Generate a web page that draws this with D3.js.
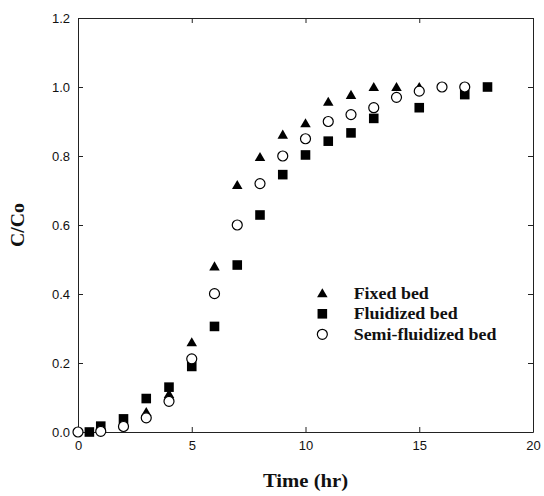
<!DOCTYPE html>
<html>
<head>
<meta charset="utf-8">
<script src="https://cdn.jsdelivr.net/npm/d3@7/dist/d3.min.js"></script>
<style>
  body { margin: 0; background: #fff; }
  svg { display: block; }
  .tick text { font-family: "Liberation Sans", Arial, sans-serif; font-size: 13px; fill: #111; }
  .domain, .tick line { stroke: #222; stroke-width: 1; }
  .title { font-family: "Liberation Serif", "Times New Roman", serif; font-weight: bold; fill: #111; }
</style>
</head>
<body>
<svg id="chart" width="544" height="496"></svg>
<script>
// Fixed bed (triangles)
const fixedX = [3, 4, 5, 6, 7, 8, 9, 10, 11, 12, 13, 14, 15];
const fixedY = [0.058, 0.11, 0.26, 0.48, 0.716, 0.797, 0.862, 0.895, 0.957, 0.977, 1.0, 1.0, 1.0];

// Fluidized bed (squares)
const fluidX = [0.5, 1, 2, 3, 4, 5, 6, 7, 8, 9, 10, 11, 12, 13, 15, 17, 18];
const fluidY = [0, 0.017, 0.038, 0.097, 0.13, 0.19, 0.306, 0.484, 0.629, 0.746, 0.803, 0.843, 0.867, 0.909, 0.94, 0.978, 1.0];

// Semi-fluidized bed (circles)
const semiX = [0, 1, 2, 3, 4, 5, 6, 7, 8, 9, 10, 11, 12, 13, 14, 15, 16, 17];
const semiY = [0, 0.002, 0.016, 0.041, 0.089, 0.212, 0.401, 0.6, 0.72, 0.8, 0.85, 0.9, 0.92, 0.94, 0.97, 0.988, 1.0, 1.0];

const xTicks = [0, 5, 10, 15, 20];
const yTicks = [0, 0.2, 0.4, 0.6, 0.8, 1.0, 1.2];
const legendLabels = ['Fixed bed', 'Fluidized bed', 'Semi-fluidized bed'];

const svg = d3.select('#chart');
const margin = { top: 18, right: 11, bottom: 64, left: 78 };
const width = 544 - margin.left - margin.right;
const height = 496 - margin.top - margin.bottom;

const x = d3.scaleLinear().domain([0, 20]).range([0, width]);
const y = d3.scaleLinear().domain([0, 1.2]).range([height, 0]);

const g = svg.append('g').attr('transform', `translate(${margin.left},${margin.top})`);

// axes, ticks pointing inward
g.append('g')
  .attr('transform', `translate(0,${height})`)
  .call(d3.axisBottom(x).tickValues(xTicks).tickSize(-5).tickSizeOuter(0).tickPadding(9));
g.append('g')
  .call(d3.axisLeft(y).tickValues(yTicks).tickFormat(d3.format('.1f')).tickSize(-5).tickSizeOuter(0).tickPadding(8));
g.append('g')
  .call(d3.axisTop(x).tickValues(xTicks).tickSize(-5).tickSizeOuter(0).tickFormat(''));
g.append('g')
  .attr('transform', `translate(${width},0)`)
  .call(d3.axisRight(y).tickValues(yTicks).tickSize(-5).tickSizeOuter(0).tickFormat(''));
g.selectAll('.tick text').attr('fill', '#111');

const tri = d3.symbol().type(d3.symbolTriangle).size(48);
const sq = d3.symbol().type(d3.symbolSquare).size(92);

// squares
g.append('g').selectAll('path')
  .data(fluidX.map((d, i) => [d, fluidY[i]]))
  .join('path')
  .attr('d', sq)
  .attr('transform', d => `translate(${x(d[0])},${y(d[1])})`)
  .attr('fill', '#000');

// triangles
g.append('g').selectAll('path')
  .data(fixedX.map((d, i) => [d, fixedY[i]]))
  .join('path')
  .attr('d', tri)
  .attr('transform', d => `translate(${x(d[0])},${y(d[1]) + 1})`)
  .attr('fill', '#000');

// circles
g.append('g').selectAll('circle')
  .data(semiX.map((d, i) => [d, semiY[i]]))
  .join('circle')
  .attr('cx', d => x(d[0]))
  .attr('cy', d => y(d[1]))
  .attr('r', 5)
  .attr('fill', '#fff')
  .attr('stroke', '#000')
  .attr('stroke-width', 1.2);

// legend
const leg = g.append('g').attr('transform', `translate(${x(10.74)},${y(0.402)})`);
legendLabels.forEach((lab, i) => {
  const row = leg.append('g').attr('transform', `translate(0,${i * 20.5})`);
  if (i === 0) row.append('path').attr('d', tri).attr('transform', 'translate(0,1)').attr('fill', '#000');
  if (i === 1) row.append('path').attr('d', sq).attr('fill', '#000');
  if (i === 2) row.append('circle').attr('r', 5).attr('fill', '#fff').attr('stroke', '#000').attr('stroke-width', 1.2);
  row.append('text')
    .attr('class', 'title')
    .attr('x', 28)
    .attr('dy', '0.35em')
    .attr('font-size', 16)
    .attr('transform', 'scale(1.12,1)')
    .text(lab);
});

// axis titles
svg.append('text')
  .attr('class', 'title')
  .attr('font-size', 18)
  .attr('text-anchor', 'middle')
  .attr('transform', `translate(${margin.left + width / 2},${487}) scale(1.15,1)`)
  .text('Time (hr)');

svg.append('text')
  .attr('class', 'title')
  .attr('font-size', 18)
  .attr('text-anchor', 'middle')
  .attr('transform', `translate(${24},${margin.top + height / 2}) rotate(-90) scale(1.1,1)`)
  .text('C/Co');
</script>
</body>
</html>
